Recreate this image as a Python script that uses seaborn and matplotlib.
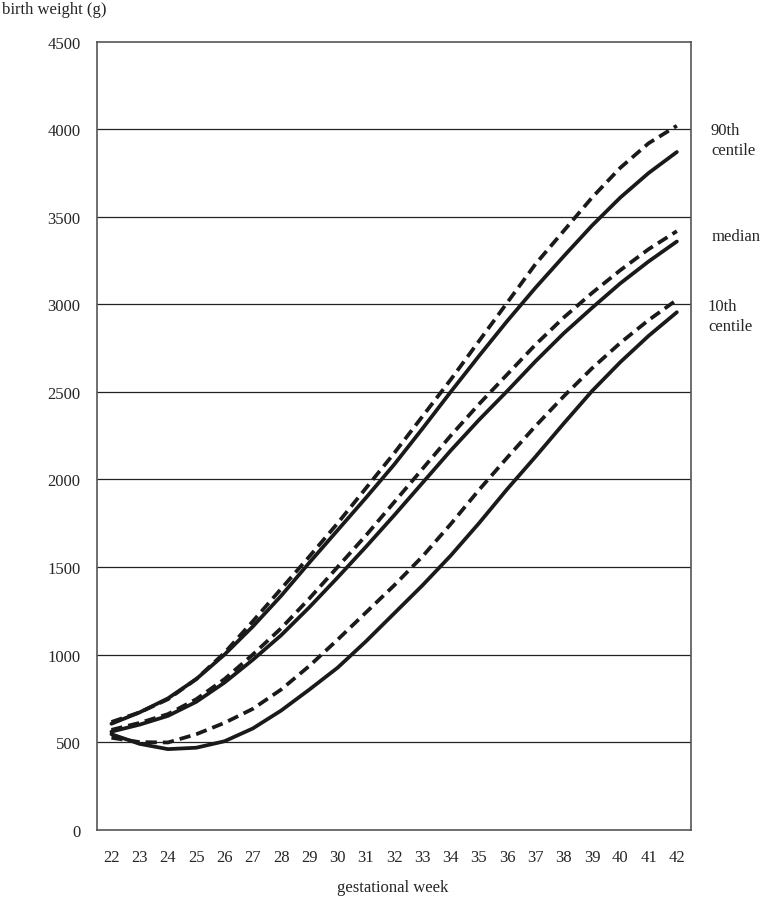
import numpy as np
import pandas as pd
import matplotlib
matplotlib.use("Agg")
import matplotlib.pyplot as plt
import seaborn as sns

weeks = list(range(22, 43))

# dashed curves
p90_dashed = [615, 670, 745, 860, 1010, 1190, 1375, 1560, 1750, 1950, 2150,
              2360, 2570, 2790, 3010, 3230, 3420, 3610, 3780, 3920, 4020]
p50_dashed = [570, 610, 660, 745, 860, 1000, 1150, 1320, 1500, 1680, 1870,
              2060, 2250, 2430, 2600, 2770, 2925, 3065, 3195, 3315, 3418]
p10_dashed = [525, 500, 498, 545, 610, 690, 800, 935, 1085, 1240, 1395,
              1560, 1745, 1940, 2125, 2305, 2475, 2635, 2780, 2910, 3026]

# solid curves
p90_solid = [605, 670, 750, 860, 1000, 1160, 1335, 1525, 1710, 1895, 2085,
             2290, 2500, 2705, 2905, 3095, 3275, 3450, 3610, 3750, 3870]
p50_solid = [560, 600, 650, 730, 840, 970, 1110, 1270, 1440, 1615, 1795,
             1980, 2165, 2340, 2505, 2675, 2835, 2980, 3120, 3245, 3359]
p10_solid = [545, 490, 460, 468, 505, 578, 680, 800, 925, 1075, 1235,
             1395, 1565, 1750, 1945, 2130, 2320, 2505, 2670, 2820, 2955]

y_ticks = list(range(0, 4501, 500))

curves = {
    ("90th", "dashed"): p90_dashed, ("50th", "dashed"): p50_dashed, ("10th", "dashed"): p10_dashed,
    ("90th", "solid"): p90_solid, ("50th", "solid"): p50_solid, ("10th", "solid"): p10_solid,
}
rows = []
for (cent, grp), vals in curves.items():
    for w, v in zip(weeks, vals):
        rows.append({"week": w, "weight": v, "centile": cent + grp, "group": grp})
df = pd.DataFrame(rows)

sns.set_style("white")
plt.rcParams["font.family"] = ["Liberation Serif", "DejaVu Serif"]

fig = plt.figure(figsize=(7.62, 9.03), dpi=100)
ax = fig.add_axes([0.1277, 0.0801, 0.9068 - 0.1277, 0.9527 - 0.0801])

for y in y_ticks[1:-1]:
    ax.axhline(y, color="#222222", lw=0.9, zorder=1)

sns.lineplot(data=df, x="week", y="weight", units="centile", style="group",
             dashes={"dashed": (3.0, 1.6), "solid": ""}, estimator=None,
             color="#1a1a1a", lw=2.7, legend=False, ax=ax, zorder=3)
for ln in ax.get_lines():
    ln.set_solid_capstyle("round")

ax.set_xlim(21.5, 42.5)
ax.set_ylim(0, 4500)
ax.set_yticks(y_ticks)
ax.set_xticks(weeks)
ax.set_xticks(np.arange(22.5, 42, 1), minor=True)
ax.tick_params(axis="x", which="major", length=0, pad=14, labelsize=12)
ax.tick_params(axis="x", which="minor", direction="in", length=3.5, width=1.0, color="#444444")
ax.tick_params(axis="y", length=0, pad=12, labelsize=12)
ax.set_xlabel("")
ax.set_ylabel("")
for s in ax.spines.values():
    s.set_color("#555555")
    s.set_linewidth(1.2)

fig.text(0.002, 0.989, "birth weight (g)", fontsize=12, va="center", ha="left")
fig.text(0.515, 0.017, "gestational week", fontsize=12, va="center", ha="center")

fig.text(0.933, 0.844, "90th\ncentile", fontsize=12, va="center", ha="left", linespacing=1.3)
fig.text(0.934, 0.737, "median", fontsize=12, va="center", ha="left")
fig.text(0.929, 0.649, "10th\ncentile", fontsize=12, va="center", ha="left", linespacing=1.3)

fig.savefig("out.png", dpi=100)
